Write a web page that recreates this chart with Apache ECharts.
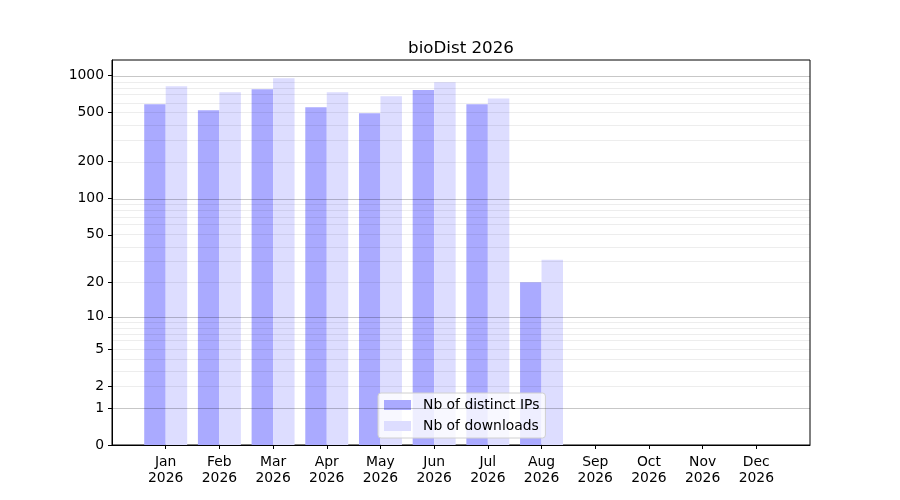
<!DOCTYPE html>
<html>
<head>
<meta charset="utf-8">
<script src="https://cdn.jsdelivr.net/npm/echarts@6/dist/echarts.min.js"></script>
<style>
  html, body { margin: 0; padding: 0; background: #fff; }
  #chart { width: 900px; height: 500px; }
</style>
</head>
<body>
<div id="chart"></div>
<script>
// data
const year = '2026'
const months = ['Jan', 'Feb', 'Mar', 'Apr', 'May', 'Jun', 'Jul', 'Aug', 'Sep', 'Oct', 'Nov', 'Dec']
const ipCounts = [585, 523, 775, 553, 494, 764, 585, 20, 0, 0, 0, 0]
const downloadCounts = [819, 732, 952, 732, 679, 883, 654, 31, 0, 0, 0, 0]
const yTicks = [0, 1, 2, 5, 10, 20, 50, 100, 200, 500, 1000]
const majorGrid = [1, 10, 100, 1000]
const minorGrid = [2, 3, 4, 5, 6, 7, 8, 9, 20, 30, 40, 50, 60, 70, 80, 90, 200, 300, 400, 500, 600, 700, 800, 900]

// y scale is log10(v + 1)
const tr = v => Math.log10(v + 1)
const FONT = 'DejaVu Sans'

let chart = echarts.init(document.getElementById('chart'))

// one empty slot on each side so the months sit one step in from the frame
let cats = [''].concat(months.map(m => m + '\n' + year), [''])
let pad = arr => [null].concat(arr.map(tr), [null])

let maxVal = Math.max(...ipCounts, ...downloadCounts)
let yMax = tr(maxVal) * 1.05

let gridLines = []
minorGrid.forEach(v => {
  gridLines.push({ yAxis: tr(v), lineStyle: { color: 'rgba(0,0,0,0.07)', width: 1, type: 'solid' } })
})
majorGrid.forEach(v => {
  gridLines.push({ yAxis: tr(v), lineStyle: { color: 'rgba(0,0,0,0.22)', width: 1, type: 'solid' } })
})

let option = {
  animation: false,
  title: {
    text: 'bioDist ' + year,
    left: 456,
    top: 35,
    textAlign: 'center',
    textStyle: { fontFamily: FONT, fontSize: 16.7, fontWeight: 'normal', color: '#000' }
  },
  legend: {
    orient: 'vertical',
    left: 378,
    top: 393,
    padding: [5, 6, 5, 6],
    itemWidth: 27,
    itemHeight: 10,
    itemGap: 7,
    icon: 'rect',
    backgroundColor: 'rgba(255,255,255,0.8)',
    borderColor: '#d0d0d0',
    borderWidth: 1,
    borderRadius: 3,
    textStyle: { fontFamily: FONT, fontSize: 13.9, color: '#000', padding: [0, 0, 0, 7] },
    data: ['Nb of distinct IPs', 'Nb of downloads']
  },
  grid: {
    left: 112, right: 90, top: 60, bottom: 55,
    show: true, borderColor: '#000', borderWidth: 1, backgroundColor: 'transparent'
  },
  xAxis: {
    type: 'category',
    data: cats,
    boundaryGap: false,
    axisLine: { lineStyle: { color: '#000', width: 1 } },
    axisTick: {
      length: 4,
      interval: (i) => i > 0 && i < cats.length - 1,
      lineStyle: { color: '#000' }
    },
    axisLabel: {
      interval: 0,
      margin: 9,
      lineHeight: 16,
      color: '#000',
      fontFamily: FONT,
      fontSize: 13.9
    },
    splitLine: { show: false }
  },
  yAxis: {
    type: 'value',
    min: 0,
    max: yMax,
    axisLine: { show: true, lineStyle: { color: '#000', width: 1 } },
    axisTick: { show: true, length: 4, customValues: yTicks.map(tr), lineStyle: { color: '#000' } },
    axisLabel: {
      customValues: yTicks.map(tr),
      margin: 8,
      color: '#000',
      fontFamily: FONT,
      fontSize: 13.9,
      formatter: v => String(Math.round(Math.pow(10, v) - 1))
    },
    splitLine: { show: false }
  },
  series: [
    {
      name: 'Nb of distinct IPs',
      type: 'bar',
      data: pad(ipCounts),
      barWidth: '40%',
      barGap: '0%',
      itemStyle: { color: '#aaaaff' },
      markLine: {
        silent: true,
        symbol: 'none',
        label: { show: false },
        z: 5,
        data: gridLines
      }
    },
    {
      name: 'Nb of downloads',
      type: 'bar',
      data: pad(downloadCounts),
      barWidth: '40%',
      barGap: '0%',
      itemStyle: { color: '#ddddff' }
    }
  ]
}

chart.setOption(option)
</script>
</body>
</html>
